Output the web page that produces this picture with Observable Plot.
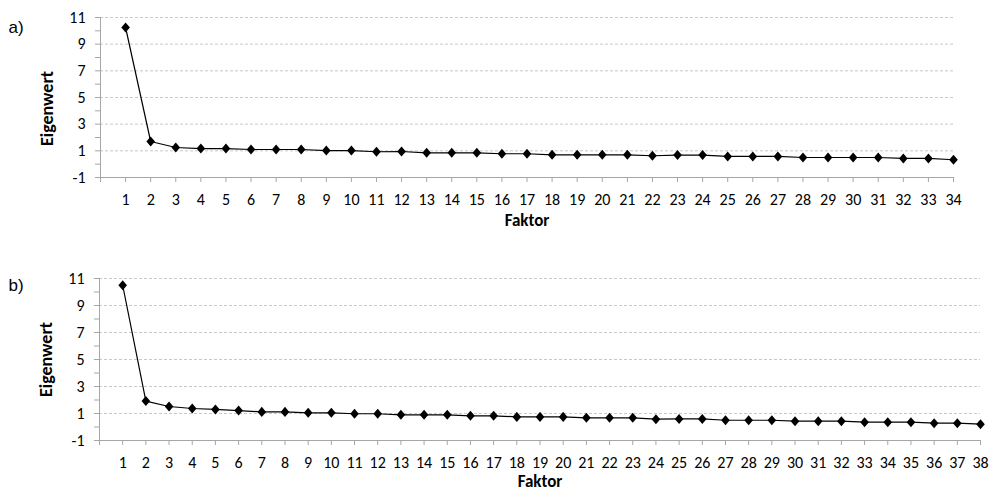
<!DOCTYPE html>
<html>
<head>
<meta charset="utf-8">
<script src="https://cdn.jsdelivr.net/npm/d3@7"></script>
<script src="https://cdn.jsdelivr.net/npm/@observablehq/plot@0.6"></script>
<style>
  body { margin: 0; background: #fff; }
  #charts { width: 999px; }
  #charts svg { display: block; }
</style>
</head>
<body>
<div id="charts"></div>
<script>
// ---- data ----
const factorsA = [1,2,3,4,5,6,7,8,9,10,11,12,13,14,15,16,17,18,19,20,21,22,23,24,25,26,27,28,29,30,31,32,33,34];
const eigenA = [10.25,1.70,1.25,1.17,1.17,1.10,1.10,1.10,1.02,1.02,0.93,0.95,0.85,0.85,0.85,0.78,0.78,0.70,0.70,0.70,0.70,0.63,0.68,0.68,0.58,0.58,0.58,0.50,0.50,0.50,0.50,0.43,0.43,0.33];

const factorsB = [1,2,3,4,5,6,7,8,9,10,11,12,13,14,15,16,17,18,19,20,21,22,23,24,25,26,27,28,29,30,31,32,33,34,35,36,37,38];
const eigenB = [10.50,1.92,1.52,1.37,1.30,1.22,1.12,1.12,1.05,1.05,0.98,0.98,0.90,0.90,0.90,0.83,0.83,0.75,0.75,0.75,0.68,0.68,0.68,0.58,0.60,0.60,0.50,0.50,0.50,0.43,0.43,0.43,0.36,0.36,0.36,0.28,0.28,0.21];

const yTicks = [-1,0,1,2,3,4,5,6,7,8,9,10,11];
const yLabels = [-1,1,3,5,7,9,11];
const gridValues = [1,3,5,7,9,11];
const xTitle = "Faktor";
const yTitle = "Eigenwert";
const panelLabels = ["a)", "b)"];

// ---- styling ----
const FONT = "Carlito, Calibri, 'Open Sans', sans-serif";
const AXIS = "#a6a6a6";

const diamond = {
  draw(context, size) {
    const h = Math.sqrt(size / 2);
    const w = h * 0.86;
    context.moveTo(0, -h);
    context.lineTo(w, 0);
    context.lineTo(0, h);
    context.lineTo(-w, 0);
    context.closePath();
  }
};

function chart(cfg) {
  const data = cfg.factors.map((f, i) => ({f, v: cfg.values[i]}));
  const xTicks = [0, ...cfg.factors];
  return Plot.plot({
    width: 999,
    height: cfg.height,
    marginTop: cfg.marginTop,
    marginBottom: cfg.marginBottom,
    marginLeft: cfg.marginLeft,
    marginRight: cfg.marginRight,
    style: {fontFamily: FONT, fontSize: "16px", color: "#000", background: "#fff", overflow: "visible"},
    x: {type: "linear", domain: [0, cfg.factors.length], label: null},
    y: {domain: [-1, 11], label: null},
    marks: [
      Plot.ruleY(gridValues, {stroke: "#c8c8c8", strokeDasharray: "3,2", strokeWidth: 1}),
      Plot.ruleX([0], {y1: -1, y2: 11, stroke: AXIS}),
      Plot.ruleY([-1], {stroke: AXIS}),
      Plot.axisY(yTicks, {tickSize: 5, tickPadding: 10, stroke: AXIS, fill: "#000", fontSize: 16,
        tickFormat: d => yLabels.includes(d) ? String(d) : "", label: null}),
      Plot.axisX(xTicks, {tickSize: 5, tickPadding: 11, stroke: AXIS, fill: "#000", fontSize: 16,
        tickFormat: d => d === 0 ? "" : String(d), label: null}),
      Plot.line(data, {x: "f", y: "v", stroke: "#000", strokeWidth: 1.2}),
      Plot.dot(data, {x: "f", y: "v", symbol: diamond, r: 4, fill: "#000", stroke: "none"}),
      Plot.text([xTitle], {text: d => d, frameAnchor: "bottom", lineAnchor: "middle", textAnchor: "middle", dy: cfg.xTitleDy,
        fontWeight: "bold", fontSize: 17, fill: "#000"}),
      Plot.text([yTitle], {text: d => d, frameAnchor: "left", textAnchor: "middle", lineAnchor: "middle",
        dx: -53, dy: cfg.yTitleDy, rotate: -90, fontWeight: "bold", fontSize: 18, fill: "#000"}),
      Plot.text([cfg.panel], {text: d => d, frameAnchor: "top-left", textAnchor: "start", dx: cfg.panelDx, dy: cfg.panelDy,
        fontFamily: "'Liberation Sans', Arial, sans-serif", fontSize: 17, fill: "#000"})
    ]
  });
}

const root = document.getElementById("charts");
root.appendChild(chart({
  factors: factorsA, values: eigenA, panel: panelLabels[0],
  height: 245, marginTop: 17, marginBottom: 68, marginLeft: 100, marginRight: 46,
  xTitleDy: 43, yTitleDy: 11, panelDx: -92, panelDy: 3
}));
root.appendChild(chart({
  factors: factorsB, values: eigenB, panel: panelLabels[1],
  height: 246, marginTop: 33, marginBottom: 51, marginLeft: 99, marginRight: 19,
  xTitleDy: 41, yTitleDy: 0, panelDx: -91, panelDy: 0
}));
</script>
</body>
</html>
